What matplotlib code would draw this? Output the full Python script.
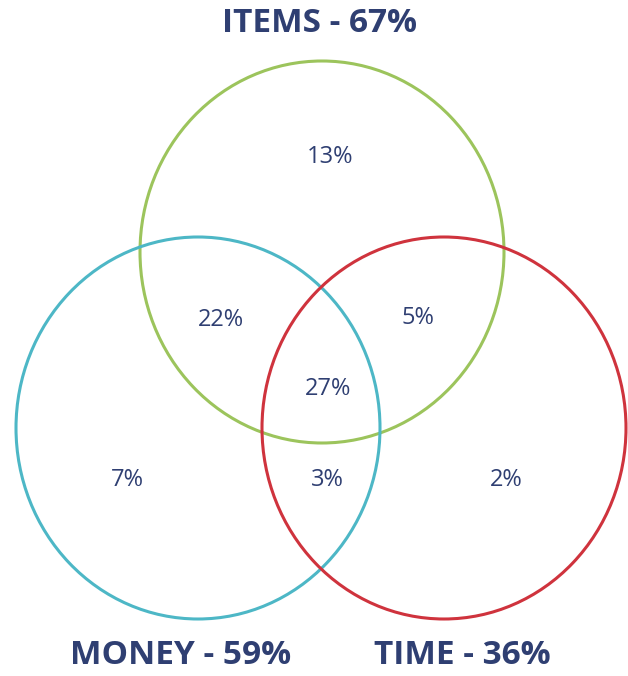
import matplotlib.pyplot as plt
from matplotlib.patches import Ellipse

plt.rcParams["font.family"] = ["Open Sans", "DejaVu Sans"]

navy = "#2f3f72"

# set titles, centers and colours
set_names = ["ITEMS", "MONEY", "TIME"]
set_totals = [67, 59, 36]
set_centers = [(322, 252), (198, 428), (444, 428)]
set_colors = ["#9cc45c", "#4db7c6", "#cf333d"]
title_pos = [(320, 23), (181, 656), (462, 656)]

# region shares and where they sit
region_values = [13, 22, 5, 27, 7, 3, 2]
region_pos = [(330, 157), (221, 320), (418, 318), (328, 389),
              (127, 480), (327, 480), (506, 480)]

fig = plt.figure(figsize=(6.28, 6.76), dpi=100)
ax = fig.add_axes([0, 0, 1, 1])
ax.set_xlim(0, 628)
ax.set_ylim(676, 0)
ax.axis("off")

for (cx, cy), col in zip(set_centers, set_colors):
    ax.add_patch(Ellipse((cx, cy), 364, 382, fill=False, edgecolor=col, lw=2.2))

for name, tot, (x, y) in zip(set_names, set_totals, title_pos):
    ax.text(x, y, f"{name} - {tot}%", ha="center", va="center",
            fontsize=24, fontweight="bold", color=navy)

for v, (x, y) in zip(region_values, region_pos):
    ax.text(x, y, f"{v}%", ha="center", va="center", fontsize=17, color=navy)

fig.savefig("out.png", dpi=100)
